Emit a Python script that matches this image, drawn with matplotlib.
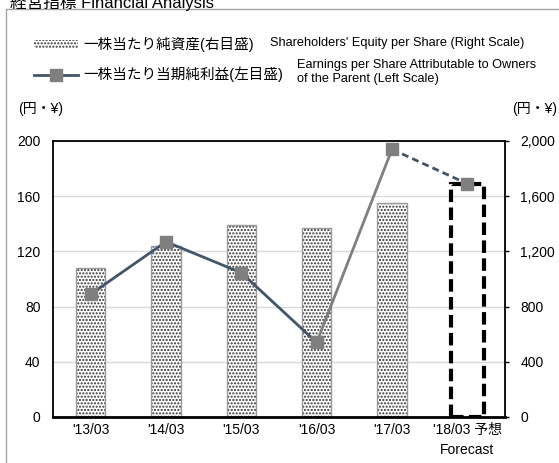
import matplotlib
matplotlib.use('Agg')
import matplotlib.pyplot as plt
from matplotlib.patches import Rectangle
from matplotlib.lines import Line2D

plt.rcParams['font.family'] = ['Liberation Sans', 'Noto Sans CJK JP']
plt.rcParams['hatch.linewidth'] = 1.0

categories = ["'13/03", "'14/03", "'15/03", "'16/03", "'17/03", "'18/03 予想\nForecast"]
equity_per_share = [1080, 1240, 1390, 1370, 1550]
equity_forecast = 1690
eps = [89, 127, 104.5, 54, 194, 169]
left_ticks = [0, 40, 80, 120, 160, 200]
right_ticks = [0, 400, 800, 1200, 1600, 2000]
right_tick_labels = ['0', '400', '800', '1,200', '1,600', '2,000']

W, H = 559, 463
fig = plt.figure(figsize=(W / 100, H / 100), dpi=100)

ax = fig.add_axes([53 / W, 1 - 417 / H, (505 - 53) / W, (417 - 141) / H])
axr = ax.twinx()
ax.set_zorder(axr.get_zorder() + 1)
ax.patch.set_visible(False)

x = list(range(len(categories)))
xb = x[:len(equity_per_share)]

# bars (right scale)
axr.bar(xb, equity_per_share, width=0.39, color='white', edgecolor='#303030',
        linewidth=0, hatch='.....', zorder=2)
axr.bar(xb, equity_per_share, width=0.39, fill=False, edgecolor='#9A9A9A',
        linewidth=1, zorder=3)
axr.bar([x[-1]], [equity_forecast], width=0.44, fill=False, edgecolor='black',
        linewidth=3, linestyle=(0, (3, 1.3)), zorder=3)

axr.set_ylim(0, 2000)
axr.set_yticks(right_ticks)
axr.set_yticklabels(right_tick_labels)
axr.yaxis.grid(True, color='#D9D9D9', linewidth=1)
axr.set_axisbelow(True)
axr.tick_params(axis='y', length=3, width=1, pad=8, labelsize=10, direction='out')
for s in ['left', 'top', 'bottom']:
    axr.spines[s].set_visible(False)
axr.spines['right'].set_color('black')
axr.spines['right'].set_linewidth(1.3)

# line (left scale)
navy = '#44546A'
grey = '#7F7F7F'
ax.plot(x[0:4], eps[0:4], color=navy, linewidth=2, zorder=3)
ax.plot(x[3:5], eps[3:5], color=grey, linewidth=2, zorder=3)
ax.plot(x[4:6], eps[4:6], color=navy, linewidth=2, linestyle=(0, (2.5, 1.5)), zorder=3)
ax.plot(x, eps, linestyle='none', marker='s', markersize=8, color=grey, zorder=4)

ax.set_xlim(-0.5, len(categories) - 0.5)
ax.set_ylim(0, 200)
ax.set_yticks(left_ticks)
ax.tick_params(axis='y', length=0, pad=9, labelsize=10)
ax.set_xticks(x)
ax.set_xticklabels(categories, fontsize=10)
ax.get_xticklabels()[-1].set_linespacing(1.55)
ax.tick_params(axis='x', length=0, pad=4)
for s in ['left', 'top', 'bottom']:
    ax.spines[s].set_color('black')
    ax.spines[s].set_linewidth(1.3)
ax.spines['bottom'].set_linewidth(2)
ax.spines['right'].set_visible(False)

# unit labels
fig.text(18 / W, 1 - 109 / H, '(円・¥)', fontsize=10, va='center', ha='left')
fig.text(557 / W, 1 - 109 / H, '(円・¥)', fontsize=10, va='center', ha='right')

# legend
h_bar = Rectangle((0, 0), 1, 1, facecolor='white', edgecolor='#303030',
                  linewidth=0, hatch='.....')
h_line = Line2D([], [], color=navy, linewidth=2, marker='s', markersize=8,
                markerfacecolor=grey, markeredgecolor=grey)
fig.legend([h_bar, h_line], ['一株当たり純資産(右目盛)', '一株当たり当期純利益(左目盛)'],
           loc='upper left', bbox_to_anchor=(34 / W, 1 - 37 / H), frameon=False,
           fontsize=10.5, handlelength=3.0, handleheight=0.5, handletextpad=0.4,
           labelspacing=1.0, borderpad=0, borderaxespad=0)
fig.text(270 / W, 1 - 43 / H, "Shareholders' Equity per Share (Right Scale)",
         fontsize=9.2, va='center', ha='left')
fig.text(297 / W, 1 - 72 / H, "Earnings per Share Attributable to Owners\nof the Parent (Left Scale)",
         fontsize=9.2, va='center', ha='left', linespacing=1.25)

# title and frame
fig.text(10 / W, 1 - 2 / H, '経営指標 Financial Analysis', fontsize=12, va='center', ha='left')
fig.add_artist(Rectangle((6 / W, -0.1), 1.2, 1.1 - 9 / H, transform=fig.transFigure,
                         fill=False, edgecolor='#A6A6A6', linewidth=1))

fig.savefig('out.png', dpi=100)
